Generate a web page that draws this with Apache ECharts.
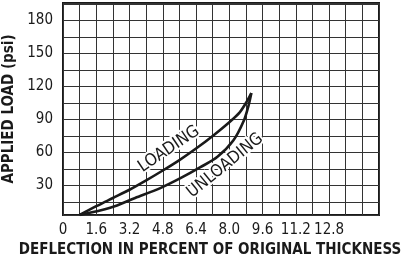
<!DOCTYPE html>
<html>
<head>
<meta charset="utf-8">
<script src="https://cdn.jsdelivr.net/npm/echarts@6/dist/echarts.min.js"></script>
<style>
  html, body { margin: 0; padding: 0; background: #fff; }
  #chart { width: 409px; height: 261px; }
</style>
</head>
<body>
<div id="chart"></div>
<script>
// deflection (%) / load (psi)
var loadX = [0.8, 1.6, 2.4, 3.2, 4.0, 4.8, 5.6, 6.4, 7.2, 8.0, 8.5, 8.8, 9.06];
var loadY = [3, 11, 18.5, 26, 34.5, 43.5, 53, 63.5, 75, 87.5, 96.5, 105, 114];
var unloadX = [9.06, 8.93, 8.69, 8.2, 7.43, 6.61, 5.65, 4.68, 3.47, 2.27, 0.8];
var unloadY = [114, 103, 88.5, 71, 56, 46.5, 36.5, 27.5, 18.5, 9.5, 3];

var xTickLabels = ['0', '1.6', '3.2', '4.8', '6.4', '8.0', '9.6', '11.2', '12.8'];
var yTickLabels = ['30', '60', '90', '120', '150', '180'];

var narrow = "'Liberation Sans Narrow', 'DejaVu Sans Condensed', sans-serif";

function pairs(xs, ys) {
  var out = [];
  for (var i = 0; i < xs.length; i++) out.push([xs[i], ys[i]]);
  return out;
}

var chart = echarts.init(document.getElementById('chart'));

var curveStyle = { color: '#1a1a1a', width: 2.6 };
var tagLabel = {
  show: true,
  color: '#1a1a1a',
  fontFamily: narrow,
  fontSize: 17,
  textBorderColor: '#fff',
  textBorderWidth: 4
};

var option = {
  animation: false,
  grid: {
    left: 63, right: 30, top: 3, bottom: 46,
    show: true, borderColor: '#1a1a1a', borderWidth: 2,
    outerBoundsMode: 'none'
  },
  xAxis: {
    type: 'value',
    min: 0, max: 15.2, interval: 0.8,
    name: 'DEFLECTION IN PERCENT OF ORIGINAL THICKNESS',
    nameLocation: 'middle',
    nameGap: 25,
    nameTextStyle: {
      fontFamily: narrow, fontWeight: 'bold', fontSize: 15, color: '#1a1a1a',
      padding: [0, 22, 0, 0]
    },
    axisLine: { show: false },
    axisTick: { show: false },
    splitLine: { lineStyle: { color: '#333', width: 1 } },
    axisLabel: {
      margin: 8,
      fontFamily: narrow, fontSize: 15, color: '#1a1a1a',
      formatter: function (v) {
        var s = v.toFixed(1) === '0.0' ? '0' : v.toFixed(1);
        return xTickLabels.indexOf(s) >= 0 ? s : '';
      }
    }
  },
  yAxis: {
    type: 'value',
    // the plot edge sits a little above 0 and above 195 in the original
    min: 3, max: 196, minInterval: 15, maxInterval: 15,
    name: 'APPLIED LOAD (psi)',
    nameLocation: 'middle',
    nameRotate: 90,
    nameGap: 40,
    nameTextStyle: { fontFamily: narrow, fontWeight: 'bold', fontSize: 15, color: '#1a1a1a' },
    axisLine: { show: false },
    axisTick: { show: false },
    splitLine: { lineStyle: { color: '#333', width: 1 } },
    axisLabel: {
      margin: 10,
      fontFamily: narrow, fontSize: 15, color: '#1a1a1a',
      formatter: function (v) {
        var s = String(Math.round(v));
        return (Math.abs(v - Math.round(v)) < 1e-6 && yTickLabels.indexOf(s) >= 0) ? s : '';
      }
    }
  },
  series: [
    {
      name: 'LOADING',
      type: 'line',
      z: 3,
      data: pairs(loadX, loadY),
      smooth: 0.3,
      symbol: 'none',
      lineStyle: curveStyle,
      markPoint: {
        z: 1,
        symbol: 'circle', symbolSize: 0,
        data: [{ coord: [5.1, 63], label: Object.assign({}, tagLabel, { formatter: 'LOADING', rotate: 34 }) }]
      }
    },
    {
      name: 'UNLOADING',
      type: 'line',
      z: 3,
      data: pairs(unloadX, unloadY),
      smooth: 0.3,
      symbol: 'none',
      lineStyle: curveStyle,
      markPoint: {
        z: 1,
        symbol: 'circle', symbolSize: 0,
        data: [{ coord: [7.8, 48], label: Object.assign({}, tagLabel, { formatter: 'UNLOADING', rotate: 39 }) }]
      }
    }
  ]
};

chart.setOption(option);
</script>
</body>
</html>
